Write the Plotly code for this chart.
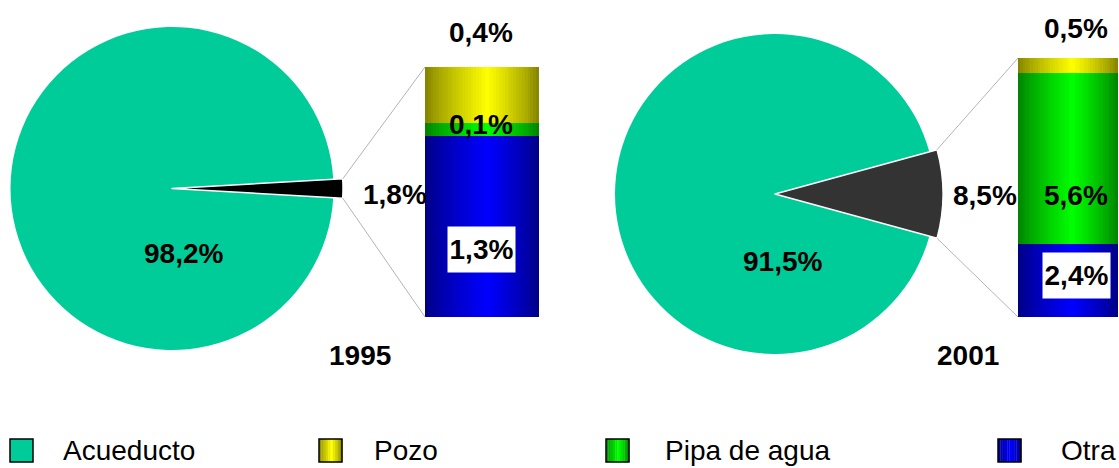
import math
import plotly.graph_objects as go

# ---------------- data ----------------
years = ["1995", "2001"]
acueducto = [98.2, 91.5]
otros_total = [1.8, 8.5]
otra = [1.3, 2.4]
pipa_de_agua = [0.1, 5.6]
pozo = [0.4, 0.5]
legend_labels = ["Acueducto", "Pozo", "Pipa de agua", "Otra"]

# ---------------- style / layout constants ----------------
W, H = 1119, 468
TEAL = "#00CC99"
DARK = ["#000000", "#333333"]
BLUE = (0, 0, 255)
GREEN = (0, 255, 0)
YELLOW = (255, 255, 0)
FONT = "Liberation Sans, Arial, sans-serif"

pie_geom = [  # centre x, centre y, radius, exploded radius (pixels)
    dict(cx=172, cy=188.5, r=161.5, R=171),
    dict(cx=775, cy=194, r=160, R=168),
]
bar_geom = [  # left px, width px, top px, bottom px
    dict(x0=425, w=114, top=67, bot=317),
    dict(x0=1018, w=100, top=58, bot=317),
]


def px_x(x):
    return x / W


def px_y(y):
    return 1 - y / H


def shade(rgb, t):
    peak = 0.55
    p = t / peak if t < peak else (1 - t) / (1 - peak)
    p = max(0.0, min(1.0, p)) ** 0.8
    f = 0.5 + 0.5 * p
    return "rgb({},{},{})".format(*(int(round(c * f)) for c in rgb))


fig = go.Figure()

# ---------------- pies ----------------
for g in pie_geom:
    g["R"] = min(g["R"], g["cx"], g["cy"])

for i in range(2):
    g = pie_geom[i]
    half = otros_total[i] * 3.6 / 2
    for rad, colors, lc, lw in [
        (g["r"], [DARK[i], TEAL], ["rgba(0,0,0,0)", "rgba(0,0,0,0)"], [0, 0]),
        (g["R"], [DARK[i], "rgba(0,0,0,0)"], ["white", "rgba(0,0,0,0)"], [1.5, 0]),
    ]:
        fig.add_trace(go.Pie(
            values=[otros_total[i], acueducto[i]],
            labels=["Otros", "Acueducto"],
            sort=False, direction="clockwise", rotation=90 - half,
            marker=dict(colors=colors, line=dict(color=lc, width=lw)),
            textinfo="none", hoverinfo="skip", showlegend=False,
            domain=dict(
                x=[px_x(g["cx"] - rad), px_x(g["cx"] + rad)],
                y=[px_y(g["cy"] + rad), px_y(g["cy"] - rad)],
            ),
        ))

# ---------------- stacked bars (cylinder shading via strips) ----------------
N = 40
xs = [(k + 0.5) / N for k in range(N)]
for i in range(2):
    xa = "x" if i == 0 else "x2"
    ya = "y" if i == 0 else "y2"
    base = 0.0
    for name, vals, rgb in [("Otra", otra, BLUE), ("Pipa de agua", pipa_de_agua, GREEN), ("Pozo", pozo, YELLOW)]:
        v = vals[i]
        fig.add_trace(go.Bar(
            x=xs, y=[v] * N, base=[base] * N, width=1.04 / N,
            marker=dict(color=[shade(rgb, t) for t in xs], line=dict(width=0)),
            xaxis=xa, yaxis=ya, name=name, showlegend=False, hoverinfo="skip",
        ))
        base += v

# ---------------- connector lines ----------------
shapes = []
for i in range(2):
    g, b = pie_geom[i], bar_geom[i]
    half = math.radians(otros_total[i] * 3.6 / 2)
    ex = g["cx"] + g["R"] * math.cos(half)
    for sgn, by in [(-1, b["top"]), (1, b["bot"])]:
        ey = g["cy"] + sgn * g["R"] * math.sin(half)
        shapes.append(dict(type="line", xref="paper", yref="paper",
                           x0=px_x(ex), y0=px_y(ey), x1=px_x(b["x0"]), y1=px_y(by),
                           line=dict(color="#B4B4B4", width=1)))

# ---------------- labels ----------------
def fmt(v):
    return ("%.1f" % v).replace(".", ",") + "%"


annotations = []


def label(text, x, y, box=None, size=28, bold=True):
    a = dict(text=text, x=px_x(x), y=px_y(y), xref="paper", yref="paper",
             showarrow=False, xanchor="center", yanchor="middle",
             font=dict(family=FONT, size=size, color="black",
                       weight="bold" if bold else "normal"))
    if box:
        a.update(bgcolor="white", width=box[0], height=box[1], borderpad=0)
    annotations.append(a)


label_pos = [
    dict(pie=(183, 254), tot=(395, 194), top=(481, 33), mid=(481, 125), low=(481, 249), year=(360, 355)),
    dict(pie=(782, 261), tot=(985, 195), top=(1076, 28), mid=(1076, 195), low=(1076, 275), year=(968, 355)),
]
for i in range(2):
    p = label_pos[i]
    label(fmt(acueducto[i]), *p["pie"])
    label(fmt(otros_total[i]), *p["tot"])
    label(fmt(pozo[i]), *p["top"])
    label(fmt(pipa_de_agua[i]), *p["mid"])
    label(fmt(otra[i]), *p["low"], box=(67, 45))
    label(years[i], *p["year"])

# ---------------- legend (manual) ----------------
leg_sq_x = [10, 319, 606, 998]
leg_txt_x = [61, 372, 663, 1059]
leg_colors = [None, YELLOW, GREEN, BLUE]
SQ, SQ_TOP = 23, 439
for j, lab in enumerate(legend_labels):
    x0 = leg_sq_x[j]
    if leg_colors[j] is None:
        shapes.append(dict(type="rect", xref="paper", yref="paper",
                           x0=px_x(x0), x1=px_x(x0 + SQ), y0=px_y(SQ_TOP + SQ), y1=px_y(SQ_TOP),
                           fillcolor=TEAL, line=dict(width=0)))
    else:
        ns = 10
        for k in range(ns):
            t = (k + 0.5) / ns
            shapes.append(dict(type="rect", xref="paper", yref="paper",
                               x0=px_x(x0 + SQ * k / ns), x1=px_x(x0 + SQ * (k + 1) / ns + 0.3),
                               y0=px_y(SQ_TOP + SQ), y1=px_y(SQ_TOP),
                               fillcolor=shade(leg_colors[j], t), line=dict(width=0)))
    shapes.append(dict(type="rect", xref="paper", yref="paper",
                       x0=px_x(x0), x1=px_x(x0 + SQ), y0=px_y(SQ_TOP + SQ), y1=px_y(SQ_TOP),
                       fillcolor="rgba(0,0,0,0)", line=dict(color="black", width=1.5)))
    annotations.append(dict(text=lab, x=px_x(leg_txt_x[j]), y=px_y(450), xref="paper", yref="paper",
                            showarrow=False, xanchor="left", yanchor="middle",
                            font=dict(family=FONT, size=28, color="black")))

b0, b1 = bar_geom
fig.update_layout(
    width=W, height=H, margin=dict(l=0, r=0, t=0, b=0),
    paper_bgcolor="white", plot_bgcolor="rgba(0,0,0,0)",
    showlegend=False, barmode="overlay", bargap=0,
    xaxis=dict(domain=[px_x(b0["x0"]), px_x(b0["x0"] + b0["w"])], range=[0, 1],
               visible=False, fixedrange=True, anchor="y"),
    yaxis=dict(domain=[px_y(b0["bot"]), px_y(b0["top"])],
               range=[0, otra[0] + pipa_de_agua[0] + pozo[0]], visible=False, anchor="x"),
    xaxis2=dict(domain=[px_x(b1["x0"]), px_x(b1["x0"] + b1["w"])], range=[0, 1],
                visible=False, anchor="y2"),
    yaxis2=dict(domain=[px_y(b1["bot"]), px_y(b1["top"])],
                range=[0, otra[1] + pipa_de_agua[1] + pozo[1]], visible=False, anchor="x2"),
    shapes=shapes, annotations=annotations,
)

fig.write_html(
    "out.html",
    config={"displayModeBar": False, "staticPlot": True},
    post_script="document.body.style.margin='0';"
                "document.documentElement.style.overflow='hidden';"
                "document.body.style.overflow='hidden';",
)
